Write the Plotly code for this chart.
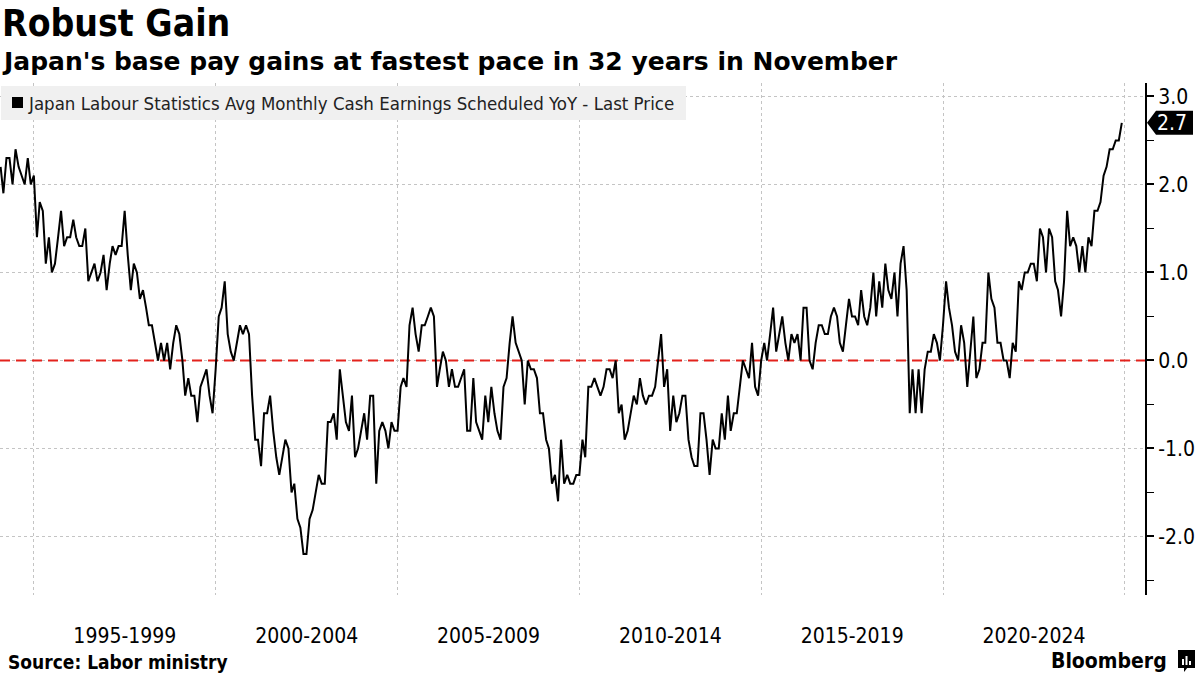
import plotly.graph_objects as go
import pandas as pd

# ---------------- data ----------------
series_name = "Japan Labour Statistics Avg Monthly Cash Earnings Scheduled YoY - Last Price"
first_month = "1994-01"
# monthly YoY %, Jan 1994 .. Nov 2024 (one row per year)
scheduled_yoy = [
    2.2, 1.9, 2.3, 2.3, 2.0, 2.4, 2.2, 2.1, 2.0, 2.3, 2.0, 2.1,          # 1994
    1.4, 1.8, 1.7, 1.1, 1.4, 1.0, 1.1, 1.4, 1.7, 1.3, 1.4, 1.4,          # 1995
    1.6, 1.4, 1.3, 1.3, 1.5, 0.9, 1.0, 1.1, 0.9, 1.0, 1.2, 0.8,          # 1996
    1.1, 1.3, 1.2, 1.3, 1.3, 1.7, 1.2, 0.8, 1.1, 1.0, 0.7, 0.8,          # 1997
    0.6, 0.4, 0.4, 0.2, 0.0, 0.2, 0.0, 0.2, -0.1, 0.2, 0.4, 0.3,         # 1998
    0.0, -0.4, -0.2, -0.4, -0.4, -0.7, -0.3, -0.2, -0.1, -0.4, -0.6, -0.1,  # 1999
    0.5, 0.6, 0.9, 0.3, 0.1, 0.0, 0.2, 0.4, 0.3, 0.4, 0.3, -0.4,         # 2000
    -0.9, -0.9, -1.2, -0.6, -0.6, -0.4, -0.8, -1.1, -1.3, -1.1, -0.9, -1.0,  # 2001
    -1.5, -1.4, -1.8, -1.9, -2.2, -2.2, -1.8, -1.7, -1.5, -1.3, -1.4, -1.4,  # 2002
    -0.7, -0.7, -0.6, -0.9, -0.1, -0.4, -0.7, -0.8, -0.4, -1.1, -1.0, -0.8,  # 2003
    -0.6, -0.9, -0.4, -0.4, -1.4, -0.8, -0.7, -0.8, -1.0, -0.7, -0.8, -0.8,  # 2004
    -0.3, -0.2, -0.3, 0.4, 0.6, 0.3, 0.1, 0.4, 0.4, 0.5, 0.6, 0.5,       # 2005
    -0.3, -0.1, 0.1, 0.0, -0.3, -0.1, -0.3, -0.3, -0.2, -0.1, -0.8, -0.8,  # 2006
    -0.2, -0.7, -0.8, -0.9, -0.4, -0.7, -0.3, -0.6, -0.8, -0.9, -0.3, -0.2,  # 2007
    0.2, 0.5, 0.2, 0.1, 0.0, -0.5, 0.0, -0.1, -0.1, -0.2, -0.6, -0.6,    # 2008
    -0.9, -1.0, -1.4, -1.3, -1.6, -0.9, -1.4, -1.3, -1.4, -1.4, -1.3, -1.3,  # 2009
    -0.9, -1.1, -0.3, -0.3, -0.2, -0.3, -0.4, -0.3, -0.1, -0.1, -0.2, 0.0,  # 2010
    -0.6, -0.5, -0.9, -0.8, -0.6, -0.4, -0.5, -0.2, -0.4, -0.5, -0.4, -0.4,  # 2011
    -0.3, 0.0, 0.3, -0.3, -0.1, -0.8, -0.4, -0.7, -0.6, -0.4, -0.4, -0.9,  # 2012
    -1.1, -1.2, -1.2, -0.6, -0.6, -0.9, -1.3, -0.9, -1.0, -1.0, -0.6, -0.9,  # 2013
    -0.4, -0.8, -0.6, -0.6, -0.3, 0.0, -0.1, -0.2, 0.2, -0.3, -0.4, 0.0,  # 2014
    0.2, 0.0, 0.3, 0.6, 0.1, 0.3, 0.5, 0.2, 0.0, 0.3, 0.2, 0.3,          # 2015
    0.0, 0.6, 0.6, 0.0, -0.1, 0.2, 0.4, 0.4, 0.3, 0.3, 0.5, 0.6,         # 2016
    0.5, 0.2, 0.1, 0.4, 0.7, 0.5, 0.5, 0.4, 0.8, 0.5, 0.4, 0.6,          # 2017
    1.0, 0.5, 0.9, 0.6, 1.1, 0.8, 0.7, 1.0, 0.5, 1.1, 1.3, 0.8,          # 2018
    -0.6, -0.1, -0.6, -0.1, -0.6, -0.1, 0.1, 0.1, 0.3, 0.2, 0.0, 0.4,    # 2019
    0.9, 0.6, 0.4, 0.1, 0.0, 0.4, 0.2, -0.3, 0.1, 0.5, -0.2, -0.1,       # 2020
    0.2, 0.2, 1.0, 0.7, 0.6, 0.2, 0.2, 0.0, 0.0, -0.2, 0.2, 0.1,         # 2021
    0.9, 0.8, 1.0, 1.0, 1.1, 1.1, 0.9, 1.5, 1.4, 1.0, 1.5, 1.4,          # 2022
    0.9, 0.8, 0.5, 0.9, 1.7, 1.3, 1.4, 1.3, 1.0, 1.3, 1.0, 1.4,          # 2023
    1.3, 1.7, 1.7, 1.8, 2.1, 2.2, 2.4, 2.4, 2.5, 2.5, 2.7,               # 2024 (Jan-Nov)
]
period_labels = ["1995-1999", "2000-2004", "2005-2009", "2010-2014", "2015-2019", "2020-2024"]
period_starts = [1995, 2000, 2005, 2010, 2015, 2020]
grid_years = [1995, 2000, 2005, 2010, 2015, 2020, 2025]
y_ticks = [-2.0, -1.0, 0.0, 1.0, 2.0, 3.0]
y_minor_ticks = [-2.5, -1.5, -0.5, 0.5, 1.5, 2.5]

title_text = "Robust Gain"
subtitle_text = "Japan's base pay gains at fastest pace in 32 years in November"
source_text = "Source: Labor ministry"

# ---------------- figure ----------------
W, H = 1200, 675
ML, MR, MT, MB = 0, 55, 83, 80
PW, PH = W - ML - MR, H - MT - MB

def pxx(x):
    return (x - ML) / PW

def pxy(y):
    return (H - MB - y) / PH

COND = "DejaVu Sans Condensed, Liberation Sans Narrow, DejaVu Sans, sans-serif"
BOLD = "DejaVu Sans, sans-serif"

start = pd.Timestamp(first_month + "-01")
dates = pd.date_range(start + pd.DateOffset(months=1), periods=len(scheduled_yoy), freq="MS") - pd.Timedelta(days=1)

x_range = ["1994-01-25", "2025-07-21"]

fig = go.Figure()
# zero reference line
fig.add_trace(go.Scatter(x=x_range, y=[0, 0], mode="lines",
                         line=dict(color="#e3221c", width=2, dash="10px,6px"),
                         hoverinfo="skip", showlegend=False, cliponaxis=False))
fig.add_trace(go.Scatter(x=dates, y=scheduled_yoy, mode="lines",
                         line=dict(color="black", width=2),
                         name=series_name, showlegend=False))

mid_dates = [pd.Timestamp(f"{y}-01-01") + (pd.Timestamp(f"{y+5}-01-01") - pd.Timestamp(f"{y}-01-01")) / 2
             for y in period_starts]

fig.update_xaxes(
    type="date", range=x_range,
    tickvals=mid_dates, ticktext=period_labels,
    ticks="", showgrid=False, showline=False, zeroline=False,
    tickfont=dict(family=COND, size=21, color="black"),
    ticklabelstandoff=26,
    minor=dict(tickvals=[f"{y}-01-01" for y in grid_years], showgrid=True,
               gridcolor="#c4c4c4", griddash="dot", gridwidth=1, ticks=""),
)
fig.update_yaxes(
    side="right", range=[-2.665, 3.153],
    tickvals=y_ticks, ticktext=[f"{v:.1f}" for v in y_ticks],
    showgrid=True, gridcolor="#c4c4c4", griddash="dot", gridwidth=1,
    zeroline=False, showline=True, linecolor="black", linewidth=2,
    ticks="outside", ticklen=7, tickwidth=2, tickcolor="black",
    minor=dict(tickvals=y_minor_ticks, ticks="outside", ticklen=7, tickwidth=1.5,
               tickcolor="black", showgrid=False),
    tickfont=dict(family=COND, size=21, color="black"),
)

shapes = []
annotations = []

# legend box
shapes.append(dict(type="rect", xref="paper", yref="paper",
                   x0=pxx(1), x1=pxx(686), y0=pxy(120), y1=pxy(86),
                   fillcolor="#f0f0f0", line=dict(width=0), layer="above"))
shapes.append(dict(type="rect", xref="paper", yref="paper",
                   x0=pxx(12), x1=pxx(23), y0=pxy(108), y1=pxy(97),
                   fillcolor="black", line=dict(width=0), layer="above"))
annotations.append(dict(text=series_name, xref="paper", yref="paper",
                        x=pxx(26), y=pxy(103), xanchor="left", yanchor="middle",
                        showarrow=False, font=dict(family=COND, size=18.5, color="#222")))

# last price tag
last_val = scheduled_yoy[-1]
half = 12 / 88
shapes.append(dict(type="path", xref="paper", yref="y",
                   path=(f"M {pxx(1147)} {last_val} L {pxx(1156)} {last_val + half} "
                         f"L {pxx(1193)} {last_val + half} L {pxx(1193)} {last_val - half} "
                         f"L {pxx(1156)} {last_val - half} Z"),
                   fillcolor="black", line=dict(width=0), layer="above"))
annotations.append(dict(text=f"{last_val:.1f}", xref="paper", yref="y",
                        x=pxx(1172), y=last_val, xanchor="center", yanchor="middle",
                        showarrow=False, font=dict(family=COND, size=21, color="white")))

# titles
annotations.append(dict(text=f"<b>{title_text}</b>", xref="paper", yref="paper",
                        x=pxx(0), y=pxy(23), xanchor="left", yanchor="middle",
                        showarrow=False, font=dict(family=COND, size=37, color="black")))
annotations.append(dict(text=f"<b>{subtitle_text}</b>", xref="paper", yref="paper",
                        x=pxx(0), y=pxy(61), xanchor="left", yanchor="middle",
                        showarrow=False, font=dict(family=BOLD, size=25, color="black")))
annotations.append(dict(text=f"<b>{source_text}</b>", xref="paper", yref="paper",
                        x=pxx(6), y=pxy(662), xanchor="left", yanchor="middle",
                        showarrow=False, font=dict(family=COND, size=19, color="black")))
annotations.append(dict(text="<b>Bloomberg</b>", xref="paper", yref="paper",
                        x=pxx(1169), y=pxy(661), xanchor="right", yanchor="middle",
                        showarrow=False, font=dict(family=COND, size=21, color="black")))
# logo mark
shapes.append(dict(type="rect", xref="paper", yref="paper",
                   x0=pxx(1178), x1=pxx(1195), y0=pxy(668), y1=pxy(650),
                   fillcolor="black", line=dict(width=0), layer="above"))
shapes.append(dict(type="path", xref="paper", yref="paper",
                   path=(f"M {pxx(1184)} {pxy(667)} L {pxx(1188)} {pxy(667)} "
                         f"L {pxx(1184)} {pxy(672)} Z"),
                   fillcolor="black", line=dict(width=0), layer="above"))
for bx, top in [(1182, 659), (1185.5, 656), (1189, 661)]:
    shapes.append(dict(type="rect", xref="paper", yref="paper",
                       x0=pxx(bx), x1=pxx(bx + 2), y0=pxy(665), y1=pxy(top),
                       fillcolor="white", line=dict(width=0), layer="above"))

fig.update_layout(
    width=W, height=H,
    margin=dict(l=ML, r=MR, t=MT, b=MB, pad=0),
    paper_bgcolor="white", plot_bgcolor="white",
    showlegend=False,
    shapes=shapes, annotations=annotations,
    hovermode=False,
)

fig.write_html("out.html",
               config={"displayModeBar": False, "staticPlot": True},
               post_script="document.body.style.margin='0px';document.body.style.overflow='hidden';")
